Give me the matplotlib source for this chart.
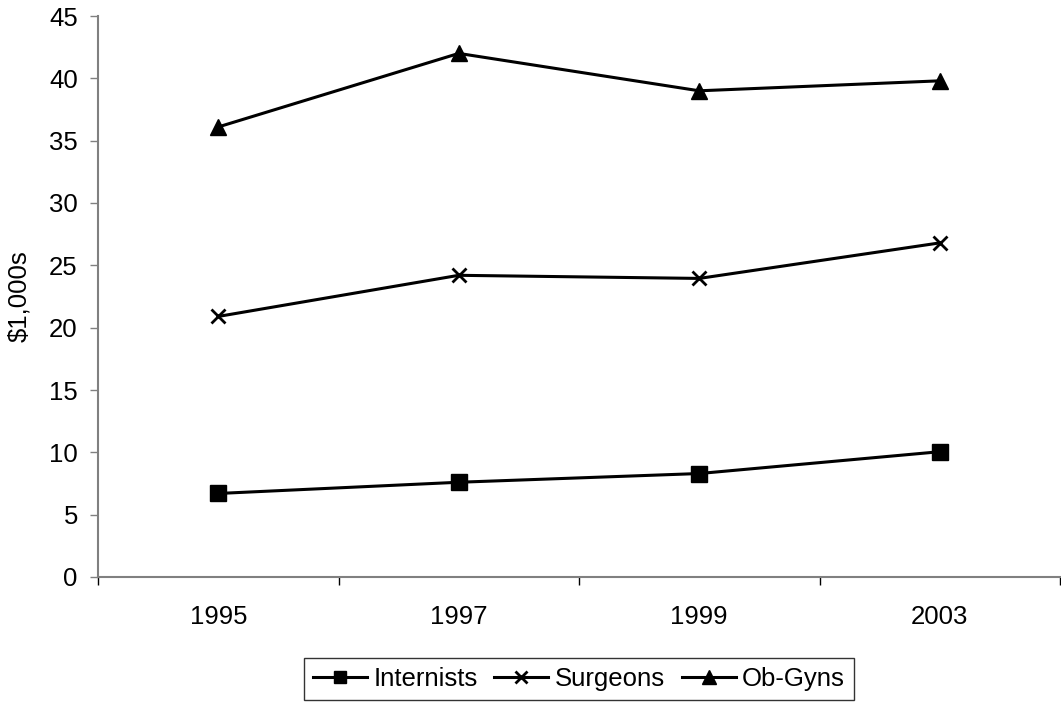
import matplotlib.pyplot as plt
import numpy as np

plt.rcParams["font.family"] = ["Liberation Sans", "DejaVu Sans"]

# Average premiums by specialty, in $1,000s
years = ["1995", "1997", "1999", "2003"]
internists = [6.7, 7.6, 8.3, 10.05]
surgeons = [20.9, 24.2, 23.95, 26.8]
ob_gyns = [36.1, 42.0, 39.0, 39.8]

FS = 18.5
W, H = 1061, 704
fig = plt.figure(figsize=(W / 100, H / 100), dpi=100)
ax = fig.add_axes([98 / W, (H - 577) / H, (1060 - 98) / W, (577 - 16) / H])

x = np.arange(len(years))
ax.plot(x, internists, color="black", lw=2.2, marker="s", ms=11, label="Internists")
ax.plot(x, surgeons, color="black", lw=2.2, marker="x", ms=10, mew=2, label="Surgeons")
ax.plot(x, ob_gyns, color="black", lw=2.2, marker="^", ms=12, label="Ob-Gyns")

ax.set_xlim(-0.5, len(years) - 0.5)
ax.set_ylim(0, 45)
ax.set_yticks(range(0, 46, 5))

# tick marks between categories, labels at the category centres
ax.set_xticks(np.arange(len(years) + 1) - 0.5)
ax.set_xticklabels([])
ax.set_xticks(x, minor=True)
ax.set_xticklabels(years, minor=True)
ax.tick_params(axis="x", which="minor", length=0, pad=20, labelsize=FS)
ax.tick_params(axis="x", which="major", length=6, width=1, color="black")
ax.tick_params(axis="y", length=6, width=1, color="#808080", labelsize=FS, pad=8.5)

for side in ("top", "right"):
    ax.spines[side].set_visible(False)
for side in ("left", "bottom"):
    ax.spines[side].set_color("#808080")
    ax.spines[side].set_linewidth(1.5)

ax.set_ylabel("$1,000s", fontsize=FS, labelpad=13)

leg = ax.legend(loc="upper center", bbox_to_anchor=(0.5, (658 - 577) / -(577 - 16)),
                ncol=3, frameon=True, fancybox=False, fontsize=FS, markerscale=0.8,
                handlelength=2.1, handletextpad=0.25, columnspacing=0.65,
                borderpad=0.35, borderaxespad=0)
leg.get_frame().set_edgecolor("black")
leg.get_frame().set_linewidth(1)

fig.savefig("out.png", dpi=100)
